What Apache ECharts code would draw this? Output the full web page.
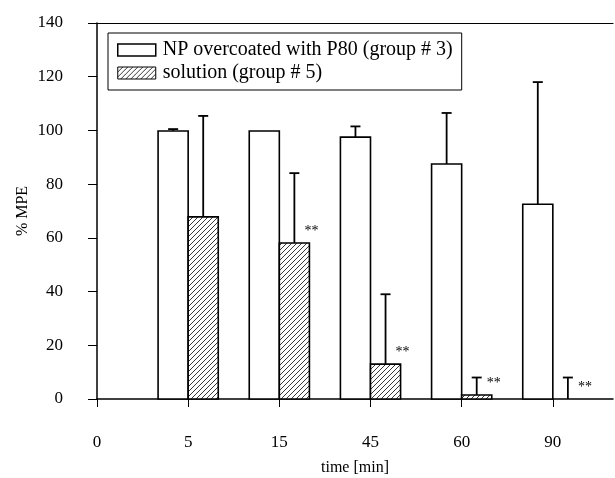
<!DOCTYPE html>
<html>
<head>
<meta charset="utf-8">
<script src="https://cdn.jsdelivr.net/npm/echarts@6/dist/echarts.min.js"></script>
<style>html,body{margin:0;padding:0;background:#fff}#c{width:615px;height:478px}</style>
</head>
<body>
<div id="c"></div>
<script>
var categories = ['0', '5', '15', '45', '60', '90'];
var npValues = [0, 99.8, 99.8, 97.5, 87.5, 72.5];
var npErrors = [0, 0.7, 0, 4, 19, 45.5];
var solValues = [0, 67.8, 58.1, 13.0, 1.5, 0];
var solErrors = [0, 37.6, 26, 26, 6.5, 8];
var sigMarks = ['', '', '**', '**', '**', '**'];
var yTicks = [0, 20, 40, 60, 80, 100, 120, 140];

var FONT = '"Liberation Serif", "DejaVu Serif", serif';

function hatch() {
  var s = 5, c = document.createElement('canvas');
  c.width = s; c.height = s;
  var g = c.getContext('2d');
  g.fillStyle = '#fff'; g.fillRect(0, 0, s, s);
  g.strokeStyle = '#222'; g.lineWidth = 0.9;
  g.beginPath();
  g.moveTo(-1, s + 1); g.lineTo(s + 1, -1);
  g.moveTo(-1, 1); g.lineTo(1, -1);
  g.moveTo(s - 1, s + 1); g.lineTo(s + 1, s - 1);
  g.stroke();
  return c;
}
var hatchFill = { image: hatch(), repeat: 'repeat' };

var BAR_RATIO = 0.33;

function makeRender(values, errors, side, fill, marks) {
  return function (params, api) {
    var i = params.dataIndex;
    var v = values[i], e = errors[i];
    var base = api.coord([i, 0]);
    var top = api.coord([i, v]);
    var w = api.size([1, 0])[0] * BAR_RATIO;
    var x0 = side < 0 ? base[0] - w : base[0];
    var cx = x0 + w / 2;
    var children = [];
    if (v > 0) {
      children.push({
        type: 'rect',
        shape: { x: x0, y: top[1], width: w, height: base[1] - top[1] },
        style: { fill: fill, stroke: '#000', lineWidth: 1.6 }
      });
    }
    if (e > 0) {
      var et = api.coord([i, v + e]);
      children.push({
        type: 'line',
        shape: { x1: cx, y1: top[1], x2: cx, y2: et[1] },
        style: { stroke: '#000', lineWidth: 1.8 }
      });
      children.push({
        type: 'line',
        shape: { x1: cx - 5, y1: et[1], x2: cx + 5, y2: et[1] },
        style: { stroke: '#000', lineWidth: 1.8 }
      });
    }
    if (marks && marks[i]) {
      children.push({
        type: 'text',
        x: x0 + w + 2, y: top[1] - 12,
        style: { text: marks[i], fill: '#000', font: '14px ' + FONT, align: 'center', verticalAlign: 'middle' }
      });
    }
    return { type: 'group', children: children };
  };
}

var chart = echarts.init(document.getElementById('c'), null, { renderer: 'canvas' });
var idx = categories.map(function (_, i) { return [i, 0]; });

chart.setOption({
  animation: false,
  backgroundColor: '#fff',
  grid: { left: 97, right: 2, top: 23, bottom: 79, containLabel: false, outerBoundsMode: 'none' },
  legend: {
    orient: 'vertical',
    left: 108, top: 33,
    itemWidth: 38, itemHeight: 12, itemGap: 3,
    padding: [7, 9, 7, 9],
    borderColor: '#000', borderWidth: 1,
    textStyle: { fontFamily: FONT, fontSize: 20, color: '#000', padding: [0, 0, 0, 2] },
    data: [
      { name: 'NP overcoated with P80 (group # 3)', icon: 'rect', itemStyle: { color: '#fff', borderColor: '#000', borderWidth: 1.5 } },
      { name: 'solution (group # 5)', icon: 'rect', itemStyle: { color: hatchFill, borderColor: '#000', borderWidth: 1 } }
    ]
  },
  xAxis: [{
    type: 'value', min: 0, max: 5.66, interval: 1,
    name: 'time [min]', nameLocation: 'middle', nameGap: 61,
    nameTextStyle: { fontFamily: FONT, fontSize: 16, color: '#000' },
    axisLine: { show: true, lineStyle: { color: '#000', width: 1.5 } },
    axisTick: { show: true, length: 8, lineStyle: { color: '#000', width: 1 }, customValues: [0, 1, 2, 3, 4, 5] },
    axisLabel: {
      margin: 35, fontFamily: FONT, fontSize: 17, color: '#000',
      customValues: [0, 1, 2, 3, 4, 5],
      formatter: function (v) { return categories[Math.round(v)] || ''; }
    },
    splitLine: { show: false }
  }, {
    type: 'value', min: 0, max: 5.66, position: 'top',
    axisLine: { show: true, onZero: false, lineStyle: { color: '#000', width: 1.2 } },
    axisTick: { show: false }, axisLabel: { show: false }, splitLine: { show: false }
  }],
  yAxis: {
    type: 'value', min: 0, max: 140, interval: 20,
    name: '% MPE', nameLocation: 'middle', nameGap: 66, nameRotate: 90, nameMoveOverlap: false,
    nameTextStyle: { fontFamily: FONT, fontSize: 16, color: '#000' },
    axisLine: { show: true, lineStyle: { color: '#000', width: 1.5 } },
    axisTick: { show: true, length: 9, lineStyle: { color: '#000', width: 1 } },
    axisLabel: {
      margin: 34, fontFamily: FONT, fontSize: 17, color: '#000',
      customValues: yTicks
    },
    splitLine: { show: false }
  },
  series: [{
    name: 'NP overcoated with P80 (group # 3)',
    type: 'custom',
    itemStyle: { color: '#fff', borderColor: '#000' },
    renderItem: makeRender(npValues, npErrors, -1, '#fff', null),
    data: idx
  }, {
    name: 'solution (group # 5)',
    type: 'custom',
    itemStyle: { color: hatchFill, borderColor: '#000' },
    renderItem: makeRender(solValues, solErrors, 1, hatchFill, sigMarks),
    data: idx
  }]
});
</script>
</body>
</html>
